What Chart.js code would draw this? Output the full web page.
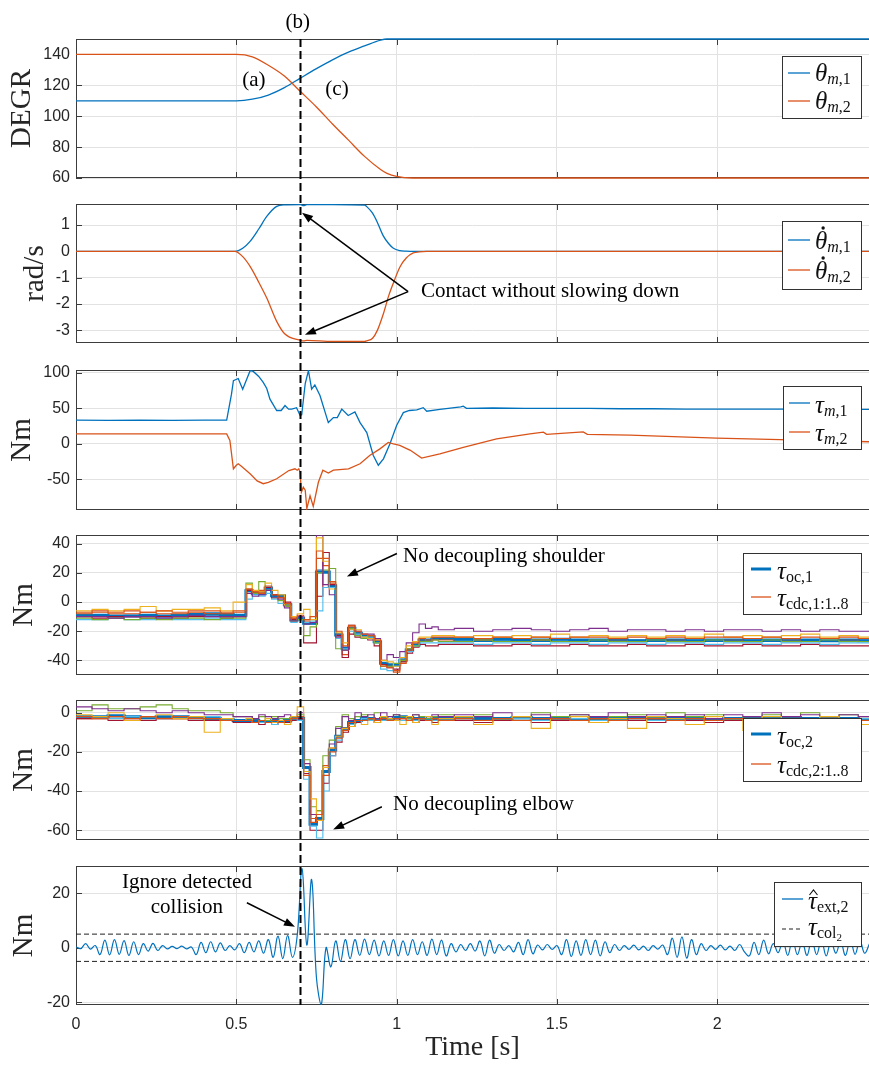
<!DOCTYPE html>
<html>
<head>
<meta charset="utf-8">
<script src="https://cdn.jsdelivr.net/npm/chart.js@4.4.0/dist/chart.umd.min.js"></script>
<style>
  body { margin: 0; background: #fff; }
  #wrap { position: relative; width: 869px; height: 1066px; }
  #wrap canvas { position: absolute; left: 0; top: 0; }
</style>
</head>
<body>
<div id="wrap">
  <canvas id="p1" width="869" height="1066"></canvas>
  <canvas id="p2" width="869" height="1066"></canvas>
  <canvas id="p3" width="869" height="1066"></canvas>
  <canvas id="p4" width="869" height="1066"></canvas>
  <canvas id="p5" width="869" height="1066"></canvas>
  <canvas id="p6" width="869" height="1066"></canvas>
</div>
<script>
// ---- data ----
var xTicks = [0, 0.5, 1, 1.5, 2];
var contactTime = 0.7;

// motor position [deg]
var tTheta = [0, 0.5, 0.55, 0.6, 0.65, 0.7, 0.75, 0.8, 0.85, 0.9, 0.95, 0.97, 1.0, 1.05, 1.1, 2.48];
var theta1 = [110, 110, 111, 113.7, 118.5, 124.7, 130.8, 136.5, 141.5, 145.5, 149.3, 150, 150, 150, 150, 150];
var theta2 = [140, 140, 138.5, 133, 126, 116, 106, 95, 84.5, 74, 65.5, 63, 61, 60, 60, 60];

// motor velocity [rad/s]
var tVel = [0, 0.495, 0.52, 0.543, 0.57, 0.595, 0.626, 0.65, 0.7, 0.71, 0.72, 0.8, 0.9, 0.907, 0.925, 0.94, 0.958, 0.975, 0.99, 1.01, 1.03, 1.052, 1.07, 1.094, 1.12, 2.48];
var vel1 = [0, 0, 0.12, 0.38, 0.85, 1.33, 1.71, 1.77, 1.78, 1.74, 1.78, 1.78, 1.76, 1.7, 1.45, 1.1, 0.6, 0.3, 0.12, 0.03, 0.01, 0, 0, 0, 0, 0];
var vel2 = [0, 0, -0.2, -0.57, -1.17, -1.77, -2.66, -3.12, -3.38, -3.4, -3.38, -3.42, -3.42, -3.4, -3.3, -3.0, -2.4, -1.7, -1.2, -0.6, -0.25, -0.06, -0.02, 0, 0, 0];

// motor torque [Nm]
var tTau1 = [0, 0.1, 0.2, 0.3, 0.4, 0.47, 0.485, 0.491, 0.506, 0.52, 0.543, 0.553, 0.57, 0.584, 0.595, 0.605, 0.626, 0.64, 0.652, 0.663, 0.673, 0.688, 0.699, 0.704, 0.715, 0.725, 0.735, 0.745, 0.761, 0.787, 0.803, 0.815, 0.829, 0.849, 0.87, 0.886, 0.907, 0.927, 0.943, 0.959, 0.979, 1.0, 1.021, 1.04, 1.063, 1.083, 1.094, 1.135, 1.2, 1.208, 1.218, 1.3, 1.4, 1.5, 1.6, 1.7, 1.8, 1.9, 2.0, 2.1, 2.2, 2.3, 2.48];
var tau1 = [33.5, 33, 33.5, 33, 33.5, 33.5, 70, 89, 92, 77, 103, 102, 95, 86.5, 78, 63, 47, 47, 54, 49, 49, 51, 40, 41, 85, 103, 77, 83, 68, 30, 37, 37, 49, 40, 45, 30, 16, -16, -30, -21, 0, 26, 44, 47, 48, 51, 46, 48.5, 52, 53, 50, 50.5, 50, 50, 50, 49.5, 49.5, 49, 49, 49, 49, 48.5, 48.5];
var tTau2 = [0, 0.2, 0.47, 0.48, 0.491, 0.5, 0.506, 0.515, 0.543, 0.565, 0.584, 0.6, 0.626, 0.664, 0.683, 0.69, 0.695, 0.699, 0.703, 0.709, 0.715, 0.72, 0.73, 0.74, 0.756, 0.77, 0.787, 0.803, 0.85, 0.886, 0.917, 0.948, 0.974, 0.99, 1.01, 1.043, 1.078, 1.135, 1.208, 1.312, 1.416, 1.458, 1.468, 1.582, 1.595, 1.728, 1.998, 2.196, 2.48];
var tau2 = [14, 14, 14, 5, -35, -30, -28, -31, -42, -52, -56, -54, -49, -37.5, -35, -37, -35, -40, -68, -61, -65, -91, -73, -88, -54, -37, -41, -37, -35, -28, -16, -7, 2, 0, -2, -9, -20, -14, -5, 7, 14, 16.5, 13.5, 17, 13.5, 12.5, 8, 6, 3];

// held (step) signals of the two observer panels share one time base
var tStep = [0, 0.05, 0.1, 0.15, 0.2, 0.25, 0.3, 0.35, 0.4, 0.45, 0.49,
  0.53, 0.55, 0.57, 0.59, 0.61, 0.63, 0.65, 0.67, 0.69, 0.71, 0.73, 0.75, 0.77, 0.79, 0.81, 0.83, 0.85, 0.87, 0.89, 0.91, 0.93, 0.95, 0.97, 0.99, 1.01, 1.03, 1.05, 1.07, 1.09, 1.11, 1.13,
  1.18, 1.24, 1.3, 1.36, 1.42, 1.48, 1.54, 1.6, 1.66, 1.72, 1.78, 1.84, 1.9, 1.96, 2.02, 2.08, 2.14, 2.2, 2.26, 2.32, 2.38, 2.44, 2.5];

var ocShoulder = [-9, -9, -9.5, -9.5, -9, -9.5, -9, -8.5, -8, -8.5, -9,
  7.8, 5.7, 5.7, 9.6, 4.3, 4.3, -1.9, -12.2, -11, -14.5, -14.5, 20.7, 20.7, 11.2, -22.5, -31.7, -17.9, -21.4, -23.7, -23.7, -27.2, -42, -43, -43, -39.8, -32.9, -29.4, -26, -26, -25, -25,
  -25.5, -26, -25.5, -26, -26, -25.5, -26, -26, -26, -26.5, -26, -26, -26.5, -26, -26, -26.5, -26, -26.5, -26, -26.5, -26, -26.5, -26.5];
var cdcShoulder = [
  [-7, -6, -7, -6, -7, -6, -7, -6, -6, -7, -6,
   9, 7, 6, 11, 5, 3, -1, -11, -9, -12, -10, 35, 30, 14, -20, -30, -16, -20, -22, -23, -26, -44, -45, -48, -42, -33, -28, -25, -26, -24, -24,
   -24, -25, -24, -25, -24, -25, -24, -24, -25, -24, -25, -24, -25, -24, -24, -25, -24, -25, -24, -25, -24, -25, -25],
  [-6, -5, -6, -5, -3, -6, -5, -5, -4, -6, 0,
   12, 8, 7, 13, 8, 5, -2, -10, -8, -5, -12, 44, 28, 9, -21, -28, -19, -19, -24, -25, -26, -40, -41, -44, -38, -30, -27, -24, -24, -23, -23,
   -24, -23, -24, -23, -24, -22, -24, -23, -24, -23, -24, -23, -24, -22, -24, -23, -24, -23, -22, -24, -23, -24, -24],
  [-10, -10, -11, -10, -10, -11, -10, -9, -10, -10, -10,
   6, 4, 5, 8, 3, 2, -4, -13, -10, -15, -14, 46, 12, 5, -24, -33, -16, -20, -22, -22, -25, -40, -36, -38, -34, -28, -21, -15, -18, -17, -19,
   -18, -20, -19, -18, -19, -20, -19, -18, -20, -19, -19, -20, -19, -20, -19, -19, -20, -19, -20, -19, -20, -20, -20],
  [-11, -12, -11, -12, -11, -12, -11, -11, -12, -11, -11,
   13, 6, 14, 8, 3, 1, -3, -13, -12, -23, -17, 20, 22, 23, -32, -33, -18, -23, -25, -23, -28, -44, -44, -42, -40, -32, -30, -27, -27, -26, -27,
   -27, -26, -27, -27, -26, -27, -27, -26, -27, -27, -26, -27, -27, -26, -27, -27, -26, -27, -27, -26, -27, -27, -27],
  [-12, -12, -11, -12, -12, -11, -12, -12, -11, -12, -12,
   2, 5, 4, 6, 2, -1, -3, -14, -12, -14, -13, -6, 10, 10, -25, -32, -20, -22, -24, -24, -28, -46, -47, -44, -40, -34, -30, -28, -28, -28, -28,
   -28, -29, -28, -28, -29, -28, -28, -29, -28, -28, -29, -28, -28, -29, -28, -28, -29, -28, -28, -29, -28, -28, -28],
  [-10, -11, -10, -10, -11, -10, -11, -10, -10, -11, -10,
   8, 6, 7, 10, 5, 3, 0, -12, -12, -28, -28, 4, 34, 12, -23, -38, -22, -24, -25, -26, -30, -43, -45, -46, -41, -35, -31, -29, -30, -30, -29,
   -29, -30, -30, -29, -30, -30, -29, -30, -30, -29, -30, -30, -29, -30, -30, -29, -30, -30, -29, -30, -30, -30, -30],
  [-9, -9, -10, -9, -9, -10, -9, -9, -9, -10, -9,
   8, 6, 5, 9, 4, 4, -2, -12, -11, -15, -15, 22, 20, 11, -22, -31, -18, -21, -23, -24, -27, -42, -43, -43, -39, -33, -29, -26, -26, -25, -25,
   -26, -27, -26, -26, -27, -26, -26, -27, -26, -26, -27, -26, -26, -27, -26, -26, -27, -26, -26, -27, -26, -26, -26],
  [-8, -7, -8, -8, -7, -8, -8, -7, -8, -8, -7,
   9, 7, 8, 10, 5, 4, -1, -11, -10, -13, -14, 30, 25, 13, -22, -36, -17, -21, -24, -23, -27, -43, -44, -47, -40, -32, -29, -26, -27, -26, -26,
   -27, -26, -27, -27, -26, -27, -27, -27, -26, -27, -27, -26, -27, -27, -26, -27, -27, -26, -27, -27, -26, -27, -27]
];

var ocElbow = [-2, -2, -1.5, -2, -2.5, -2, -2, -2.5, -3, -3.5, -4,
  -4, -4, -4.5, -4.5, -4, -4.5, -4, -3, -3, -28, -57, -54, -30, -19, -12, -8, -5, -4, -3, -3, -3.5, -3, -3.5, -2.5, -2, -2.5, -3, -3, -3.5, -3, -3,
  -2.5, -3, -3, -2.5, -3, -3, -3.5, -3, -3, -2.5, -3, -3, -3, -3.5, -3, -3, -3, -2.5, -3, -3, -3, -3.5, -3.5];
var cdcElbow = [
  [-2, -3, -2, -3, -2, -3, -2, -3, -3, -4, -4,
   -4, -5, -4, -5, -4, -5, -4, -3, -2, -32, -56, -52, -32, -20, -13, -9, -5, -4, -4, -3, -4, -3, -4, -3, -3, -4, -3, -3, -4, -3, -4,
   -3, -4, -3, -4, -3, -3, -4, -3, -4, -3, -3, -4, -3, -4, -3, -3, -4, -3, -4, -3, -3, -4, -4],
  [-1, -2, 0, -4, -2, -1, -3, -2, -10, -3, -4,
   -3, -5, -4, -3, -5, -4, -6, -2, 3, -30, -44, -55, -28, -18, -12, -8, -7, -4, -6, -3, -5, -2, -3, -4, -6, -2, -5, -3, -2, -6, -3,
   -2, -6, -3, -2, -8, -3, -2, -5, -3, -8, -2, -3, -6, -2, -3, -9, -2, -3, -5, -2, -3, -6, -6],
  [3, 2, 1, 2, 1, 0, 1, 0, -1, -1, -2,
   -2, -3, -1, -2, -3, -2, -1, -2, 0, -26, -52, -55, -28, -16, -8, -2, -4, 0, -2, -1, -3, 0, -2, -1, -3, -2, -1, -3, -2, -1, -2,
   -1, -2, 0, -2, -1, -3, -1, -2, 0, -2, -1, -2, -1, -3, -1, -2, 0, -2, -1, -2, -1, -2, -2],
  [1, 4, 2, 2, 3, 4, 2, 1, 1, 0, -2,
   -2, -3, -2, -4, -2, -3, -3, -2, -1, -24, -48, -50, -22, -14, -7, -1, -3, -2, -1, -3, 0, -2, -3, -1, -2, -3, -1, -2, -3, -2, -1,
   -2, -1, -3, -2, 0, -2, -1, -3, -2, -1, -2, 0, -2, -1, -3, -2, -1, -2, 0, -2, -1, -2, -2],
  [-2, -2, -3, -2, -2, -3, -2, -3, -2, -3, -4,
   -4, -5, -5, -4, -6, -5, -4, -3, -4, -34, -58, -64, -40, -22, -14, -9, -6, -4, -3, -4, -3, -4, -3, -4, -4, -3, -4, -3, -3, -4, -3,
   -3, -4, -3, -3, -4, -3, -3, -4, -3, -3, -4, -3, -3, -4, -3, -3, -4, -3, -3, -4, -3, -3, -3],
  [-3, -3, -4, -3, -4, -3, -3, -4, -4, -4, -5,
   -5, -5, -6, -5, -6, -5, -5, -4, -3, -31, -60, -60, -36, -22, -15, -10, -7, -5, -4, -4, -5, -4, -4, -3, -4, -4, -5, -4, -4, -5, -4,
   -4, -5, -4, -4, -5, -4, -4, -5, -4, -4, -5, -4, -4, -5, -4, -4, -5, -4, -4, -5, -4, -4, -4],
  [-2, -2, -2, -2, -3, -2, -2, -3, -3, -3, -4,
   -4, -4, -5, -4, -4, -5, -4, -3, -3, -28, -57, -54, -30, -19, -12, -8, -5, -4, -3, -3, -4, -3, -3, -3, -2, -3, -3, -3, -4, -3, -3,
   -3, -3, -3, -3, -3, -3, -4, -3, -3, -3, -3, -3, -3, -4, -3, -3, -3, -3, -3, -3, -3, -4, -4],
  [-3, -2, -3, -2, -3, -2, -3, -2, -3, -3, -4,
   -4, -4, -5, -4, -5, -4, -5, -4, -3, -30, -54, -50, -27, -18, -12, -8, -5, -4, -3, -4, -3, -4, -3, -3, -4, -3, -4, -3, -4, -3, -3,
   -3, -3, -4, -3, -3, -4, -3, -3, -4, -3, -3, -4, -3, -3, -4, -3, -3, -4, -3, -3, -4, -3, -3]
];

// estimated external torque, sampled every extDt seconds from t = 0
var extDt = 0.015;
var tauExt = [0.3, -0.3, 1.5, -0.5, 0.8,
  -2.5, 2.8, -2.6, 3, -2.4, 2.6, -2.8, 2.2, -2.5,
  1.5, -1.2, 1.6, -1, 0.8,
  -0.4, 0.5, -0.3, 0.6, -0.4, 0.3,
  -2.5, 2, -1.8, 2.2, -1.5, 1.8,
  -1, 0.8, -0.8,
  1.5, -1.8, 2, -1.5, 2.5, -2,
  3, -3.5, 4.3, -4, 4.5, -3.5,
  4.5, 29, 1, 25, -11, -21, 0, -7, 2.5, -5, 3, -4,
  3, -2.8, 3.2, -2.5, 2.8, -3, 2.5, -2.8, 3,
  -3, 2.5, -2.8, 3, -2.5, 2.2, -2.8, 3.2, -2.5, 2.8, -3, 1.5, -1.5, 1.2,
  -1, 1.5, -1.2, 2.5, -3, 2.8, -2, 1.2, -1, 0.8, -1.5, 2, -2.5, 3, -2.2, 1, -0.8, 1.2, -0.6, 0.8,
  -2.5, 3, -3.2, 2.5, -2.8, 3, -2.5, 2.8, -3, 2.2, -1.8, 1.2, -1,
  0.8, -0.6, 1, -0.8, 0.6, -1, 0.8, -0.5, 1,
  -2.5, 3.5, -3.5, 4, -3.8, 3, -2.5, 1.5,
  -1, 0.8, -0.6, 1, -0.8, 0.6, -1, 1.2, -1.5, -3,
  2, -2.5, 2.8, -2.2, 1.5, -1.8, 2.5, -2.8, 3, -2.5, 2.2, -2.8, 3, -2.5, 2.8, -3, 2.5, -2, 2.2, -2.8, 3, -2.4, 2.6, -2, 1.5];
var tauCol = 5;

(function () {
  'use strict';

  var BLUE = '#0072BD', ORANGE = '#D95319', YELLOW = '#EDB120', PURPLE = '#7E2F8E',
      GREEN = '#77AC30', CYAN = '#4DBEEE', RED = '#A2142F';
  var CDC_COLORS = [ORANGE, YELLOW, PURPLE, GREEN, CYAN, RED, BLUE, ORANGE];
  var INK = '#262626', GRID = '#e2e2e2', AXIS = '#3c3c3c';
  var SERIF = '"Liberation Serif", "DejaVu Serif", serif';
  var SANS = '"Liberation Sans", Arial, sans-serif';
  var W = 869, H = 1066, PLOT_LEFT = 76, X_MAX = (W - PLOT_LEFT) / 320.6;
  var NOTE_FONT = '21px ' + SERIF;
  var MATH = {
    sym: { font: 'italic 25px ' + SERIF, dy: 0 },
    subI: { font: 'italic 16px ' + SERIF, dy: 3 },
    sub: { font: '16px ' + SERIF, dy: 3 },
    subsub: { font: '11px ' + SERIF, dy: 6 }
  };

  function pairs(ts, vs, name) {
    if (ts.length !== vs.length) throw new Error('length mismatch in ' + name + ': ' + ts.length + ' vs ' + vs.length);
    return ts.map(function (t, i) { return { x: t, y: vs[i] }; });
  }

  function drawMath(ctx, x, base, parts, accent) {
    var cx = x;
    ctx.textBaseline = 'alphabetic';
    ctx.textAlign = 'left';
    parts.forEach(function (p, k) {
      var st = MATH[p[1]];
      ctx.font = st.font;
      ctx.fillText(p[0], cx, base + st.dy);
      var w = ctx.measureText(p[0]).width;
      if (k === 0 && accent === 'dot') {
        ctx.beginPath();
        ctx.arc(cx + w / 2 + 2, base - 21, 1.7, 0, Math.PI * 2);
        ctx.fill();
      } else if (k === 0 && accent === 'hat') {
        ctx.beginPath();
        ctx.moveTo(cx + w / 2 - 3, base - 14);
        ctx.lineTo(cx + w / 2 + 1, base - 19);
        ctx.lineTo(cx + w / 2 + 5, base - 14);
        ctx.lineWidth = 1.1;
        ctx.stroke();
      }
      cx += w;
    });
  }

  function drawLegend(ctx, lg) {
    ctx.save();
    ctx.fillStyle = '#fff';
    ctx.fillRect(lg.box[0], lg.box[1], lg.box[2], lg.box[3]);
    ctx.strokeStyle = '#333';
    ctx.lineWidth = 1;
    ctx.strokeRect(lg.box[0] + 0.5, lg.box[1] + 0.5, lg.box[2], lg.box[3]);
    lg.rows.forEach(function (r) {
      ctx.beginPath();
      ctx.setLineDash(r.dash || []);
      ctx.strokeStyle = r.color;
      ctx.lineWidth = r.width;
      ctx.moveTo(lg.line[0], r.y);
      ctx.lineTo(lg.line[1], r.y);
      ctx.stroke();
      ctx.setLineDash([]);
      ctx.fillStyle = '#111';
      ctx.strokeStyle = '#111';
      drawMath(ctx, lg.textX, r.y + r.base, r.parts, r.accent);
    });
    ctx.restore();
  }

  function arrow(ctx, x1, y1, x2, y2) {
    var a = Math.atan2(y2 - y1, x2 - x1), L = 11, S = 4;
    ctx.beginPath();
    ctx.moveTo(x1, y1);
    ctx.lineTo(x2 - Math.cos(a) * L * 0.8, y2 - Math.sin(a) * L * 0.8);
    ctx.lineWidth = 1.5;
    ctx.stroke();
    ctx.beginPath();
    ctx.moveTo(x2, y2);
    ctx.lineTo(x2 - L * Math.cos(a) + S * Math.sin(a), y2 - L * Math.sin(a) - S * Math.cos(a));
    ctx.lineTo(x2 - L * Math.cos(a) - S * Math.sin(a), y2 - L * Math.sin(a) + S * Math.cos(a));
    ctx.closePath();
    ctx.fill();
  }

  // MATLAB-like frame under the data, then legend box, notes and arrows on top
  function deco(cfg) {
    return {
      id: 'deco',
      beforeDatasetsDraw: function (chart) {
        var ctx = chart.ctx, a = chart.chartArea, xs = chart.scales.x, ys = chart.scales.y;
        ctx.save();
        ctx.strokeStyle = AXIS;
        ctx.lineWidth = 1;
        ctx.strokeRect(a.left + 0.5, a.top + 0.5, a.right - a.left, a.bottom - a.top - 1);
        ctx.beginPath();
        xTicks.forEach(function (v) {
          if (v === 0) return;
          var px = Math.round(xs.getPixelForValue(v)) + 0.5;
          ctx.moveTo(px, a.top); ctx.lineTo(px, a.top + 6);
          ctx.moveTo(px, a.bottom); ctx.lineTo(px, a.bottom - 6);
        });
        cfg.yTicks.forEach(function (v) {
          var py = Math.round(ys.getPixelForValue(v)) + 0.5;
          ctx.moveTo(a.left, py); ctx.lineTo(a.left + 6, py);
        });
        ctx.stroke();
        ctx.restore();
      },
      afterDraw: function (chart) {
        var ctx = chart.ctx, a = chart.chartArea, xs = chart.scales.x, ys = chart.scales.y;
        ctx.save();
        if (cfg.legend) drawLegend(ctx, cfg.legend);

        ctx.fillStyle = '#000';
        ctx.strokeStyle = '#000';
        ctx.font = NOTE_FONT;
        ctx.textBaseline = 'middle';
        (cfg.notes || []).forEach(function (n) {
          ctx.textAlign = n.align || 'left';
          ctx.fillText(n.text, xs.getPixelForValue(n.at[0]), ys.getPixelForValue(n.at[1]));
        });
        (cfg.arrows || []).forEach(function (r) {
          arrow(ctx, xs.getPixelForValue(r[0]), ys.getPixelForValue(r[1]),
            xs.getPixelForValue(r[2]), ys.getPixelForValue(r[3]));
        });

        if (cfg.marker) {
          var mx = Math.round(xs.getPixelForValue(contactTime)) + 0.5;
          ctx.beginPath();
          ctx.setLineDash([8, 4]);
          ctx.lineWidth = 2;
          ctx.moveTo(mx, cfg.marker);
          ctx.lineTo(mx, a.bottom);
          ctx.stroke();
        }
        ctx.restore();
      }
    };
  }

  function panel(id, box, y, datasets, cfg) {
    var last = !!cfg.last;
    cfg.yTicks = y.ticks;
    return new Chart(document.getElementById(id).getContext('2d'), {
      type: 'line',
      data: { datasets: datasets },
      options: {
        responsive: false, animation: false, events: [],
        layout: { padding: { top: box[0], left: 0, right: 0, bottom: 0 } },
        elements: { point: { radius: 0 }, line: { borderWidth: 1.3 } },
        plugins: { legend: { display: false }, tooltip: { enabled: false } },
        scales: {
          x: {
            type: 'linear', min: 0, max: X_MAX,
            afterBuildTicks: function (s) { s.ticks = xTicks.map(function (v) { return { value: v }; }); },
            afterFit: function (s) { s.height = H - box[1]; },
            grid: { color: GRID, drawTicks: false },
            border: { display: false },
            ticks: { display: last, padding: 10, color: INK, font: { family: SANS, size: 16 },
              callback: function (v) { return String(v); } },
            title: { display: last, text: 'Time [s]', color: INK,
              font: { family: SERIF, size: 28, lineHeight: 1 }, padding: { top: 0, bottom: 4 } }
          },
          y: {
            type: 'linear', min: y.min, max: y.max,
            afterBuildTicks: function (s) { s.ticks = y.ticks.map(function (v) { return { value: v }; }); },
            afterFit: function (s) { s.width = PLOT_LEFT; },
            grid: { color: GRID, drawTicks: false },
            border: { display: false },
            ticks: { padding: 6, color: INK, font: { family: SANS, size: 16 },
              callback: function (v) { return String(v); } },
            title: { display: true, text: y.title, color: INK,
              font: { family: SERIF, size: 29, lineHeight: 1 }, padding: { top: y.pad, bottom: 0 } }
          }
        }
      },
      plugins: [deco(cfg)]
    });
  }

  function line(data, color, order, extra) {
    var d = { data: data, borderColor: color, borderWidth: 1.3, order: order };
    for (var k in extra) d[k] = extra[k];
    return d;
  }
  var smooth = { cubicInterpolationMode: 'monotone', clip: 2 };

  // 1: motor positions
  panel('p1', [39, 178], { min: 60, max: 150, ticks: [60, 80, 100, 120, 140], title: 'DEGR', pad: 8 }, [
    line(pairs(tTheta, theta1, 'theta1'), BLUE, 1, smooth),
    line(pairs(tTheta, theta2, 'theta2'), ORANGE, 0, smooth)
  ], {
    notes: [
      { text: '(a)', at: [0.555, 123.4], align: 'center' },
      { text: '(c)', at: [0.814, 117], align: 'center' },
      { text: '(b)', at: [0.692, 160.8], align: 'center' }
    ],
    legend: { box: [782, 56, 79, 62], line: [788, 810], textX: 815, rows: [
      { y: 73, base: 8, color: BLUE, width: 1.3, parts: [['θ', 'sym'], ['m', 'subI'], [',1', 'sub']] },
      { y: 101, base: 8, color: ORANGE, width: 1.3, parts: [['θ', 'sym'], ['m', 'subI'], [',2', 'sub']] }
    ] }
  });

  // 2: motor velocities
  panel('p2', [204, 343], { min: -3.48, max: 1.8, ticks: [-3, -2, -1, 0, 1], title: 'rad/s', pad: 21 }, [
    line(pairs(tVel, vel1, 'vel1'), BLUE, 1, smooth),
    line(pairs(tVel, vel2, 'vel2'), ORANGE, 0, smooth)
  ], {
    notes: [{ text: 'Contact without slowing down', at: [1.076, -1.53] }],
    arrows: [[1.036, -1.53, 0.705, 1.47], [1.036, -1.53, 0.714, -3.17]],
    legend: { box: [782, 221, 79, 68], line: [788, 810], textX: 815, rows: [
      { y: 240, base: 9, color: BLUE, width: 1.3, accent: 'dot', parts: [['θ', 'sym'], ['m', 'subI'], [',1', 'sub']] },
      { y: 270, base: 9, color: ORANGE, width: 1.3, accent: 'dot', parts: [['θ', 'sym'], ['m', 'subI'], [',2', 'sub']] }
    ] }
  });

  // 3: motor torques
  panel('p3', [370, 510], { min: -93, max: 104, ticks: [-50, 0, 50, 100], title: 'Nm', pad: 8 }, [
    line(pairs(tTau1, tau1, 'tau1'), BLUE, 1, {}),
    line(pairs(tTau2, tau2, 'tau2'), ORANGE, 0, {})
  ], {
    legend: { box: [783, 386, 78, 63], line: [789, 810], textX: 815, rows: [
      { y: 403, base: 10, color: BLUE, width: 1.3, parts: [['τ', 'sym'], ['m', 'subI'], [',1', 'sub']] },
      { y: 432, base: 9, color: ORANGE, width: 1.3, parts: [['τ', 'sym'], ['m', 'subI'], [',2', 'sub']] }
    ] }
  });

  function stepSets(oc, cdc, name) {
    var sets = cdc.map(function (vals, k) {
      return line(pairs(tStep, vals, name + ' cdc ' + (k + 1)), CDC_COLORS[k], k, { stepped: true, borderWidth: 1.1 });
    });
    sets.push(line(pairs(tStep, oc, name + ' oc'), BLUE, 9, { stepped: true, borderWidth: 3 }));
    return sets;
  }

  // 4: shoulder observers
  panel('p4', [535, 675], { min: -50, max: 46, ticks: [-40, -20, 0, 20, 40], title: 'Nm', pad: 10 },
    stepSets(ocShoulder, cdcShoulder, 'shoulder'), {
    notes: [{ text: 'No decoupling shoulder', at: [1.02, 31.2] }],
    arrows: [[1.001, 33.3, 0.845, 17.5]],
    legend: { box: [743, 553, 118, 61], line: [751, 771], textX: 777, rows: [
      { y: 569, base: 10, color: BLUE, width: 3, parts: [['τ', 'sym'], ['oc,1', 'sub']] },
      { y: 597, base: 9, color: ORANGE, width: 1.3, parts: [['τ', 'sym'], ['cdc,1:1..8', 'sub']] }
    ] }
  });

  // 5: elbow observers
  panel('p5', [700, 840], { min: -65, max: 6.5, ticks: [-60, -40, -20, 0], title: 'Nm', pad: 10 },
    stepSets(ocElbow, cdcElbow, 'elbow'), {
    notes: [{ text: 'No decoupling elbow', at: [0.989, -46.9] }],
    arrows: [[0.954, -48, 0.802, -59.7]],
    legend: { box: [743, 718, 118, 63], line: [751, 771], textX: 777, rows: [
      { y: 734, base: 10, color: BLUE, width: 3, parts: [['τ', 'sym'], ['oc,2', 'sub']] },
      { y: 764, base: 9, color: ORANGE, width: 1.3, parts: [['τ', 'sym'], ['cdc,2:1..8', 'sub']] }
    ] }
  });

  // 6: external torque estimate and threshold
  var extPts = tauExt.map(function (v, i) { return { x: i * extDt, y: v }; });
  var dashed = { borderDash: [5, 3], borderWidth: 1 };
  panel('p6', [866, 1005], { min: -21, max: 30, ticks: [-20, 0, 20], title: 'Nm', pad: 10 }, [
    line(extPts, BLUE, 0, { tension: 0.4, borderWidth: 1.2 }),
    line([{ x: 0, y: tauCol }, { x: X_MAX, y: tauCol }], '#222', 1, dashed),
    line([{ x: 0, y: -tauCol }, { x: X_MAX, y: -tauCol }], '#222', 1, dashed)
  ], {
    last: true,
    marker: 39,
    notes: [
      { text: 'Ignore detected', at: [0.346, 23.8], align: 'center' },
      { text: 'collision', at: [0.346, 14.6], align: 'center' }
    ],
    arrows: [[0.533, 16.5, 0.683, 7.7]],
    legend: { box: [774, 882, 87, 64], line: [782, 803], textX: 808, rows: [
      { y: 899, base: 10, color: BLUE, width: 1.3, accent: 'hat', parts: [['τ', 'sym'], ['ext,2', 'sub']] },
      { y: 929, base: 6, color: '#222', width: 1.1, dash: [4, 3], parts: [['τ', 'sym'], ['col', 'sub'], ['2', 'subsub']] }
    ] }
  });
}());
</script>
</body>
</html>
